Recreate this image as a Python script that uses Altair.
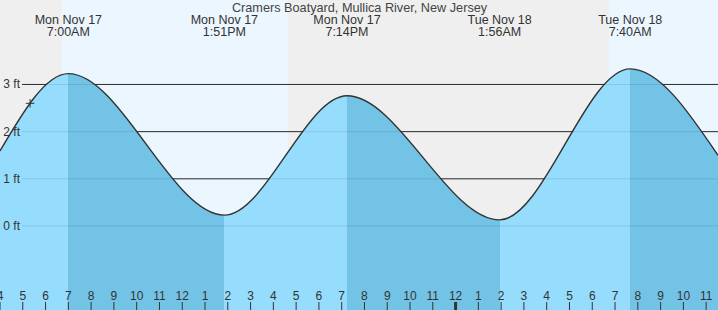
import altair as alt
import pandas as pd

# Tide extremes (hours since Mon Nov 17 00:00, feet)
tide_hours = [4.0, 7.0, 13.85, 19.233, 25.933, 31.667, 35.52]
tide_ft = [1.59, 3.23, 0.23, 2.76, 0.13, 3.33, 1.50]

event_hours = [7.0, 13.85, 19.233, 25.933, 31.667]
event_days = ["Mon Nov 17", "Mon Nov 17", "Mon Nov 17", "Tue Nov 18", "Tue Nov 18"]
event_times = ["7:00AM", "1:51PM", "7:14PM", "1:56AM", "7:40AM"]

band_start = [4.0, 6.72, 16.64, 30.73]
band_end = [6.72, 16.64, 30.73, 35.52]
band_kind = ["night", "day", "night", "day"]

grid_ft = [0, 1, 2, 3]
grid_labels = ["0 ft", "1 ft", "2 ft", "3 ft"]

tick_hours = list(range(4, 36))
tick_labels = ["4", "5", "6", "7", "8", "9", "10", "11", "12",
               "1", "2", "3", "4", "5", "6", "7", "8", "9", "10", "11", "12",
               "1", "2", "3", "4", "5", "6", "7", "8", "9", "10", "11"]
midnight_hour = [24]

now_hour = [5.32]
now_ft = [2.60]

title_text = ["Cramers Boatyard, Mullica River, New Jersey"]

X0, X1 = 4.0, 35.52
Y0, Y1 = -1.78, 4.79
W, H = 718, 310
FONT = "Liberation Sans"
TXT = "#333333"
LIGHT = "#96dcfd"
DARK = "#73c3e7"

xs = alt.Scale(domain=[X0, X1], nice=False, zero=False)
ys = alt.Scale(domain=[Y0, Y1], nice=False, zero=False)

tide_df = pd.DataFrame({"h": tide_hours, "ft": tide_ft})
ev_df = pd.DataFrame({"h": event_hours, "day": event_days, "time": event_times})
band_df = pd.DataFrame({"start": band_start, "end": band_end, "kind": band_kind})
grid_df = pd.DataFrame({"ft": grid_ft, "label": grid_labels})
tick_df = pd.DataFrame({"h": tick_hours, "label": tick_labels})
mid_df = pd.DataFrame({"h": midnight_hour})
now_df = pd.DataFrame({"h": now_hour, "ft": now_ft})
title_df = pd.DataFrame({"t": title_text})

# gradient: falling tide (high -> low) darker
stops = []
highs = [tide_hours[1], tide_hours[3], tide_hours[5]]
lows = [tide_hours[2], tide_hours[4], X1]
def off(h):
    return (h - X0) / (X1 - X0)
stops.append(alt.GradientStop(offset=0, color=LIGHT))
for hi, lo in zip(highs, lows):
    stops.append(alt.GradientStop(offset=off(hi), color=LIGHT))
    stops.append(alt.GradientStop(offset=off(hi), color=DARK))
    stops.append(alt.GradientStop(offset=off(lo), color=DARK))
    if lo < X1:
        stops.append(alt.GradientStop(offset=off(lo), color=LIGHT))
grad = alt.LinearGradient(gradient="linear", stops=stops, x1=0, x2=1, y1=0, y2=0)

bands = alt.Chart(band_df).mark_rect().encode(
    x=alt.X("start:Q", scale=xs, axis=None), x2="end:Q",
    y=alt.value(0), y2=alt.value(H),
    color=alt.Color("kind:N", scale=alt.Scale(domain=["night", "day"], range=["#efefef", "#ebf6fe"]), legend=None),
)

grid_under = alt.Chart(grid_df).mark_rule(color=TXT, strokeWidth=1).encode(
    y=alt.Y("ft:Q", scale=ys, axis=None), x=alt.value(22), x2=alt.value(W)
)

area = alt.Chart(tide_df).mark_area(interpolate="monotone", color=grad).encode(
    x=alt.X("h:Q", scale=xs, axis=None),
    y=alt.Y("ft:Q", scale=ys, axis=None),
    y2=alt.datum(Y0),
)

line = alt.Chart(tide_df).mark_line(interpolate="monotone", color=TXT, strokeWidth=1.4).encode(
    x=alt.X("h:Q", scale=xs, axis=None),
    y=alt.Y("ft:Q", scale=ys, axis=None),
)

grid_over = alt.Chart(grid_df).mark_rule(color="#000000", opacity=0.1, strokeWidth=1).encode(
    y=alt.Y("ft:Q", scale=ys, axis=None), x=alt.value(22), x2=alt.value(W)
)

ylab = alt.Chart(grid_df).mark_text(align="right", baseline="middle", font=FONT, fontSize=12, color=TXT).encode(
    y=alt.Y("ft:Q", scale=ys, axis=None), x=alt.value(20), text="label:N"
)

ticks = alt.Chart(tick_df).mark_rule(color=TXT, strokeWidth=1).encode(
    x=alt.X("h:Q", scale=xs, axis=None), y=alt.value(302), y2=alt.value(H)
)
mid = alt.Chart(mid_df).mark_rule(color=TXT, strokeWidth=3).encode(
    x=alt.X("h:Q", scale=xs, axis=None), y=alt.value(302), y2=alt.value(H)
)
tlab = alt.Chart(tick_df).mark_text(baseline="alphabetic", align="center", font=FONT, fontSize=12, color=TXT).encode(
    x=alt.X("h:Q", scale=xs, axis=None), y=alt.value(300), text="label:N"
)

ev_day = alt.Chart(ev_df).mark_text(baseline="alphabetic", align="center", font=FONT, fontSize=12.5, color=TXT).encode(
    x=alt.X("h:Q", scale=xs, axis=None), y=alt.value(24.3), text="day:N"
)
ev_time = alt.Chart(ev_df).mark_text(baseline="alphabetic", align="center", font=FONT, fontSize=12.5, color=TXT).encode(
    x=alt.X("h:Q", scale=xs, axis=None), y=alt.value(36), text="time:N"
)
title = alt.Chart(title_df).mark_text(baseline="alphabetic", align="center", font=FONT, fontSize=12.7, color="#444444").encode(
    x=alt.value(359.5), y=alt.value(11.7), text="t:N"
)

now = alt.Chart(now_df).mark_point(shape="M-1,0H1M0,-1V1", size=72, filled=False, color=TXT, strokeWidth=1, opacity=1).encode(
    x=alt.X("h:Q", scale=xs, axis=None), y=alt.Y("ft:Q", scale=ys, axis=None)
)

chart = alt.layer(
    bands, grid_under, area, line, grid_over, ylab, ticks, mid, tlab, ev_day, ev_time, title, now
).properties(width=W, height=H, padding=0, autosize="none").configure_view(stroke=None)

chart.save("out.html", embed_options={"renderer": "svg", "actions": False})
